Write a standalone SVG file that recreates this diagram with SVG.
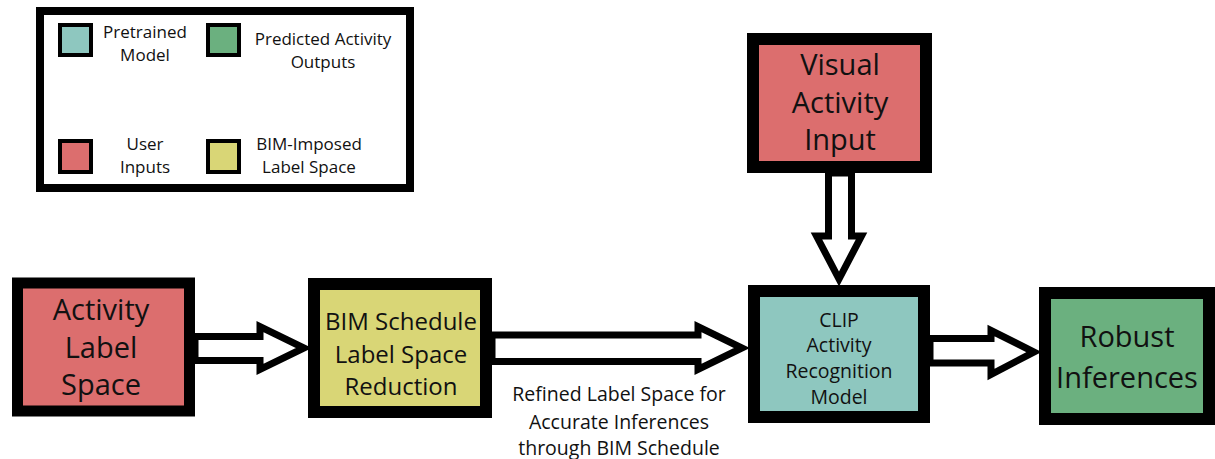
<svg xmlns="http://www.w3.org/2000/svg" width="1215" height="459" viewBox="0 0 1215 459">
<style>
text{font-family:"Open Sans","Noto Sans",sans-serif;fill:#111;text-anchor:middle;dominant-baseline:central}
.big{font-size:29px}
.mid{font-size:24px}
.sm{font-size:19.5px}
.lg{font-size:17px}
.cap{font-size:19.5px}
.node{stroke:#000;stroke-width:12}
.sw{stroke:#000;stroke-width:4}
.arrow{fill:#fff;stroke:#000;stroke-width:7;stroke-linejoin:miter;stroke-miterlimit:10}
.red{fill:#DC6E6E}.yel{fill:#D9D676}.teal{fill:#8EC7BF}.grn{fill:#6BB07F}
</style>
<g id="legend">
<rect x="40" y="11" width="370" height="177" fill="#fff" stroke="#000" stroke-width="8"/>
<rect class="sw teal" x="60" y="25" width="31" height="30"/>
<rect class="sw grn" x="208" y="25" width="31" height="30"/>
<rect class="sw red" x="60" y="141" width="31" height="31"/>
<rect class="sw yel" x="208" y="141" width="31" height="31"/>
<text class="lg" x="145" y="31">Pretrained</text>
<text class="lg" x="145" y="54">Model</text>
<text class="lg" x="323" y="38">Predicted Activity</text>
<text class="lg" x="323" y="61">Outputs</text>
<text class="lg" x="145" y="143">User</text>
<text class="lg" x="145" y="166">Inputs</text>
<text class="lg" x="309" y="143">BIM-Imposed</text>
<text class="lg" x="309" y="166">Label Space</text>
</g>
<g id="connectors">
<polygon class="arrow" points="195,336.5 260,336.5 260,326.5 304,348 260,369.5 260,360.5 195,360.5"/>
<polygon class="arrow" points="492,335 698,335 698,326.5 742,348 698,369.5 698,361.5 492,361.5"/>
<polygon class="arrow" points="930,338.5 991,338.5 991,330.5 1034,352 991,374.5 991,363 930,363"/>
<polygon class="arrow" points="828.5,173 828.5,236 816.5,236 839,279 861.5,236 851.5,236 851.5,173"/>
</g>
<g id="node-activity-label-space">
<rect class="node red" x="17.5" y="283" width="172" height="128" style="stroke-width:11"/>
<text class="big" x="101" y="308">Activity</text>
<text class="big" x="101" y="346">Label</text>
<text class="big" x="101" y="383">Space</text>
</g>
<g id="node-bim-schedule">
<rect class="node yel" x="314" y="284" width="172" height="128"/>
<text class="mid" x="401" y="320">BIM Schedule</text>
<text class="mid" x="401" y="353">Label Space</text>
<text class="mid" x="401" y="385">Reduction</text>
</g>
<g id="node-clip">
<rect class="node teal" x="754" y="291" width="170" height="126"/>
<text class="sm" x="839" y="319">CLIP</text>
<text class="sm" x="839" y="344">Activity</text>
<text class="sm" x="839" y="370">Recognition</text>
<text class="sm" x="839" y="396">Model</text>
</g>
<g id="node-visual-activity-input">
<rect class="node red" x="753" y="39" width="173" height="128"/>
<text class="big" x="840" y="63">Visual</text>
<text class="big" x="840" y="101">Activity</text>
<text class="big" x="840" y="138">Input</text>
</g>
<g id="node-robust-inferences">
<rect class="node grn" x="1045" y="293" width="164" height="126"/>
<text class="big" x="1127" y="335">Robust</text>
<text class="big" x="1127" y="376">Inferences</text>
</g>
<g id="caption">
<text class="cap" x="619" y="393">Refined Label Space for</text>
<text class="cap" x="619" y="421">Accurate Inferences</text>
<text class="cap" x="619" y="447">through BIM Schedule</text>
</g>
</svg>
